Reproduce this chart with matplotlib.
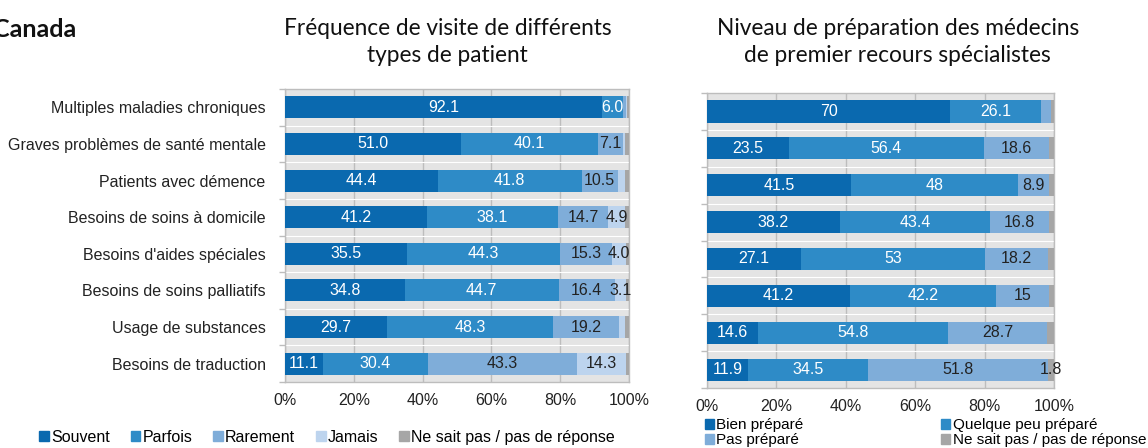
import numpy as np
import matplotlib
matplotlib.use("Agg")
import matplotlib.pyplot as plt
from matplotlib.patches import Patch

plt.rcParams["font.family"] = ["Liberation Sans", "DejaVu Sans"]

# ---- data ----
categories = ["Multiples maladies chroniques", "Graves problèmes de santé mentale",
              "Patients avec démence", "Besoins de soins à domicile",
              "Besoins d'aides spéciales", "Besoins de soins palliatifs",
              "Usage de substances", "Besoins de traduction"]

freq_names = ["Souvent", "Parfois", "Rarement", "Jamais", "Ne sait pas / pas de réponse"]
souvent  = [92.1, 51.0, 44.4, 41.2, 35.5, 34.8, 29.7, 11.1]
parfois  = [6.0, 40.1, 41.8, 38.1, 44.3, 44.7, 48.3, 30.4]
rarement = [1.0, 7.1, 10.5, 14.7, 15.3, 16.4, 19.2, 43.3]
jamais   = [0.3, 0.6, 2.2, 4.9, 4.0, 3.1, 1.5, 14.3]
nsp_freq = [0.6, 1.2, 1.1, 1.1, 0.9, 1.0, 1.3, 0.9]

prep_names = ["Bien préparé", "Quelque peu préparé", "Pas préparé", "Ne sait pas / pas de réponse"]
bien     = [70, 23.5, 41.5, 38.2, 27.1, 41.2, 14.6, 11.9]
quelque  = [26.1, 56.4, 48, 43.4, 53, 42.2, 54.8, 34.5]
pas_prep = [2.9, 18.6, 8.9, 16.8, 18.2, 15, 28.7, 51.8]
nsp_prep = [1.0, 1.5, 1.6, 1.6, 1.7, 1.6, 1.9, 1.8]

C_DARK = "#0A69AF"
C_MID = "#2E8BC7"
C_LIGHT = "#7FADD9"
C_PALE = "#BDD4EE"
C_GREY = "#A6A6A6"
BG = "#E4E4E4"
GRID = "#BDBDBD"
INK = "#222222"
FS = 11.5

freq_series = [souvent, parfois, rarement, jamais, nsp_freq]
freq_colors = [C_DARK, C_MID, C_LIGHT, C_PALE, C_GREY]
freq_txt = ["white", "white", INK, INK, None]

prep_series = [bien, quelque, pas_prep, nsp_prep]
prep_colors = [C_DARK, C_MID, C_LIGHT, C_GREY]
prep_txt = ["white", "white", INK, None]

fig = plt.figure(figsize=(11.48, 4.48), dpi=100)
axL = fig.add_axes([0.2483, 0.1473, 0.2997, 0.654])
axR = fig.add_axes([0.6159, 0.1339, 0.3023, 0.6585])


def stacked(ax, series, colors, txtcols, fmt):
    y = np.arange(len(series[0]))
    left = np.zeros(len(y))
    for vals, col, tc in zip(series, colors, txtcols):
        vals = np.array(vals, dtype=float)
        ax.barh(y, vals, left=left, height=0.6, color=col, zorder=3, linewidth=0)
        if tc is not None:
            for yi, (l, v) in enumerate(zip(left, vals)):
                if v >= 3:
                    ax.text(l + v / 2, yi, fmt(v), ha="center", va="center",
                            fontsize=FS, color=tc, zorder=4)
        left += vals
    ax.set_facecolor(BG)
    ax.set_xlim(0, 100)
    ax.set_ylim(len(y) - 0.5, -0.5)
    ax.set_xticks(np.arange(0, 101, 20))
    ax.set_xticklabels([f"{v}%" for v in range(0, 101, 20)], fontsize=FS, color=INK)
    ax.tick_params(axis="x", length=0, pad=8)
    ax.grid(True, axis="x", color=GRID, lw=1.0, zorder=1)
    for b in np.arange(0.5, len(y) - 1, 1.0):
        ax.axhline(b, color="white", lw=0.8, zorder=2)
    ax.set_yticks(np.arange(-0.5, len(y), 1.0), minor=True)
    ax.tick_params(axis="y", which="minor", length=4, color=GRID, width=1)
    ax.tick_params(axis="y", which="major", length=0, pad=14)
    for s in ax.spines.values():
        s.set_color(GRID)
        s.set_linewidth(1.0)
    return y


y = stacked(axL, freq_series, freq_colors, freq_txt, lambda v: f"{v:.1f}")
axL.set_yticks(y)
axL.set_yticklabels(categories, fontsize=FS, color=INK)

y2 = stacked(axR, prep_series, prep_colors, prep_txt, lambda v: f"{v:g}")
axR.tick_params(axis="x", pad=8)
axR.set_yticks(y2)
axR.set_yticklabels([])
# only the last "ne sait pas" value carries a label in the reference
lastrow = len(y2) - 1
start = bien[lastrow] + quelque[lastrow] + pas_prep[lastrow]
axR.text(start + nsp_prep[lastrow] / 2, lastrow, f"{nsp_prep[lastrow]:g}",
         ha="center", va="center", fontsize=FS, color=INK, zorder=5, clip_on=False)

# titles
fig.text(-0.006, 0.935, "Canada", fontsize=18, fontweight="bold", family="Lato",
         ha="left", va="center", color="#111111")
fig.text(0.39, 0.907, "Fréquence de visite de différents\ntypes de patient",
         fontsize=16.3, family="Lato", ha="center", va="center", linespacing=1.35,
         color="#111111")
fig.text(0.782, 0.907, "Niveau de préparation des médecins\nde premier recours spécialistes",
         fontsize=16.3, family="Lato", ha="center", va="center", linespacing=1.35,
         color="#111111")

# legends
hL = [Patch(color=c) for c in freq_colors]
fig.legend(hL, freq_names, loc="center left", bbox_to_anchor=(0.034, 0.024), ncol=5,
           frameon=False, fontsize=FS, handlelength=0.6, handleheight=0.6,
           handletextpad=0.15, columnspacing=1.3, borderaxespad=0, borderpad=0)
# matplotlib fills column by column: order so rows read like the reference
order = [0, 2, 1, 3]
hR = [Patch(color=prep_colors[i]) for i in order]
fig.legend(hR, [prep_names[i] for i in order], loc="upper left",
           bbox_to_anchor=(0.614, 0.066), ncol=2,
           frameon=False, fontsize=11, handlelength=0.6, handleheight=0.6,
           handletextpad=0.15, columnspacing=9.0, labelspacing=0.05,
           borderaxespad=0, borderpad=0)

fig.savefig("out.png", dpi=100)
